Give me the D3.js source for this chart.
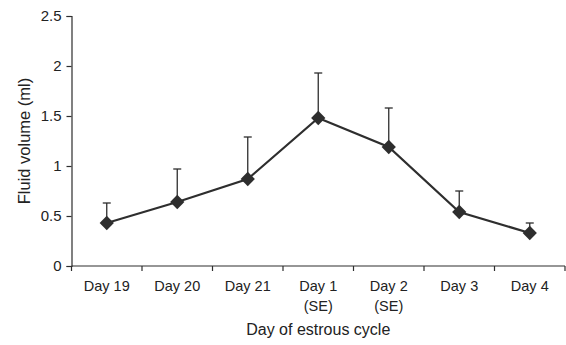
<!DOCTYPE html>
<html>
<head>
<meta charset="utf-8">
<script src="https://cdn.jsdelivr.net/npm/d3@7"></script>
<style>
  body { margin: 0; background: #fff; }
  text { font-family: "Liberation Sans", Arial, sans-serif; fill: #222; }
</style>
</head>
<body>
<div id="chart"></div>
<script>
// Day labels (two lines for the SE days)
const days = ["Day 19", "Day 20", "Day 21", "Day 1\n(SE)", "Day 2\n(SE)", "Day 3", "Day 4"];
const volume = [0.43, 0.64, 0.87, 1.48, 1.19, 0.54, 0.33];
const errUp = [0.20, 0.33, 0.42, 0.45, 0.39, 0.21, 0.10];
const yTicks = [0, 0.5, 1, 1.5, 2, 2.5];

const width = 566, height = 345;
const margin = { top: 16, right: 1, bottom: 79, left: 71.5 };

const svg = d3.select("#chart")
  .append("svg")
  .attr("width", width)
  .attr("height", height);

const x = d3.scaleBand()
  .domain(days)
  .range([margin.left, width - margin.right]);

const y = d3.scaleLinear()
  .domain([0, 2.5])
  .range([height - margin.bottom, margin.top]);

const ink = "#2e2e2e";

// y axis
const yAxis = svg.append("g")
  .attr("transform", `translate(${margin.left},0)`)
  .call(d3.axisLeft(y).tickValues(yTicks).tickSize(5).tickPadding(5).tickFormat(d3.format("")));
yAxis.selectAll("path, line").attr("stroke", ink).attr("stroke-width", 1.2);
yAxis.selectAll("text").attr("font-size", 15).style("font-family", "Liberation Sans, Arial, sans-serif").attr("fill", "#222");

// x axis: ticks sit between categories
const xAxis = svg.append("g")
  .attr("transform", `translate(0,${y(0)})`);
xAxis.append("line")
  .attr("x1", margin.left).attr("x2", width - margin.right)
  .attr("stroke", ink).attr("stroke-width", 1.2);
const bounds = days.map(d => x(d)).concat([x(days[days.length - 1]) + x.bandwidth()]);
xAxis.selectAll(".tk")
  .data(bounds)
  .enter()
  .append("line")
  .attr("x1", d => d).attr("x2", d => d)
  .attr("y1", 0).attr("y2", 5)
  .attr("stroke", ink).attr("stroke-width", 1.2);

const lab = xAxis.selectAll(".lab")
  .data(days)
  .enter()
  .append("text")
  .attr("text-anchor", "middle")
  .attr("font-size", 14.5)
  .attr("transform", d => `translate(${x(d) + x.bandwidth() / 2},25)`);
lab.selectAll("tspan")
  .data(d => d.split("\n"))
  .enter()
  .append("tspan")
  .attr("x", 0)
  .attr("dy", (d, i) => i === 0 ? 0 : 19.5)
  .text(d => d);

// axis titles
svg.append("text")
  .attr("x", margin.left + (width - margin.right - margin.left) / 2)
  .attr("y", 335)
  .attr("text-anchor", "middle")
  .attr("font-size", 16)
  .text("Day of estrous cycle");

svg.append("text")
  .attr("transform", `translate(30,${y(1.25)}) rotate(-90)`)
  .attr("text-anchor", "middle")
  .attr("font-size", 16.5)
  .text("Fluid volume (ml)");

const cx = d => x(d) + x.bandwidth() / 2;

// error bars (upper only)
const eb = svg.append("g").attr("stroke", ink).attr("stroke-width", 1.3);
eb.selectAll(".v")
  .data(days)
  .enter()
  .append("line")
  .attr("x1", cx).attr("x2", cx)
  .attr("y1", (d, i) => y(volume[i]))
  .attr("y2", (d, i) => y(volume[i] + errUp[i]));
eb.selectAll(".cap")
  .data(days)
  .enter()
  .append("line")
  .attr("x1", d => cx(d) - 4).attr("x2", d => cx(d) + 4)
  .attr("y1", (d, i) => y(volume[i] + errUp[i]))
  .attr("y2", (d, i) => y(volume[i] + errUp[i]));

// line
const line = d3.line()
  .x((d, i) => cx(days[i]))
  .y(d => y(d));
svg.append("path")
  .datum(volume)
  .attr("d", line)
  .attr("fill", "none")
  .attr("stroke", ink)
  .attr("stroke-width", 2.2);

// diamond markers
svg.selectAll(".pt")
  .data(volume)
  .enter()
  .append("path")
  .attr("d", d3.symbol().type(d3.symbolDiamond2).size(130))
  .attr("transform", (d, i) => `translate(${cx(days[i])},${y(d)})`)
  .attr("fill", ink);
</script>
</body>
</html>
